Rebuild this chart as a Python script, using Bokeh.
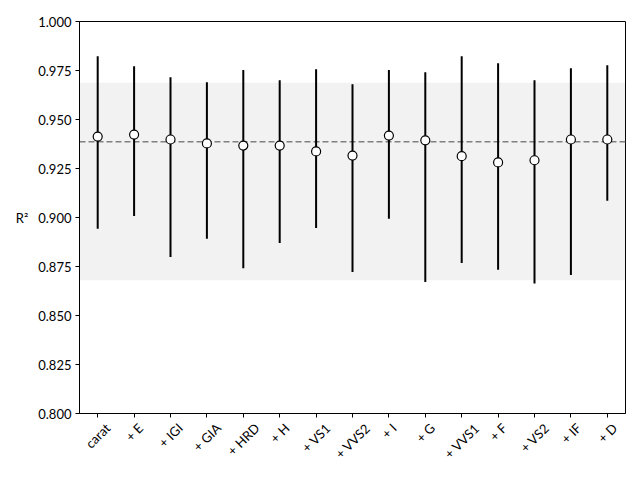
import math
from bokeh.plotting import figure
from bokeh.layouts import column
from bokeh.core.properties import value
from bokeh.models import (FactorRange, Range1d, BoxAnnotation, Span, ColumnDataSource,
                          FixedTicker, CustomJSTickFormatter, LabelSet)
from bokeh.embed import file_html
from bokeh.resources import INLINE

categories = ["carat", "+ E", "+ IGI", "+ GIA", "+ HRD", "+ H", "+ VS1", "+ VVS2",
              "+ I", "+ G", "+ VVS1", "+ F", "+ VS2", "+ IF", "+ D"]
r2_mean = [0.9413, 0.9423, 0.9398, 0.9378, 0.9367, 0.9367, 0.9337, 0.9316,
           0.9418, 0.9394, 0.9313, 0.9281, 0.9292, 0.9398, 0.9398]
r2_high = [0.9823, 0.9772, 0.9716, 0.9690, 0.9752, 0.9700, 0.9757, 0.9680,
           0.9752, 0.9741, 0.9823, 0.9787, 0.9700, 0.9762, 0.9777]
r2_low = [0.8942, 0.9008, 0.8799, 0.8891, 0.8741, 0.8870, 0.8947, 0.8722,
          0.8993, 0.8671, 0.8768, 0.8733, 0.8663, 0.8707, 0.9085]
baseline_mean = 0.9386
baseline_band = (0.8680, 0.9687)
y_ticks = [0.800, 0.825, 0.850, 0.875, 0.900, 0.925, 0.950, 0.975, 1.000]

FONT = "Lato"
FS = 13

W, H = 639, 472
FRAME_W, FRAME_H = 546, 392
B_LEFT, B_TOP, B_BOTTOM = 79, 21, 8
B_RIGHT = W - B_LEFT - FRAME_W
STRIP_H = H - (B_TOP + FRAME_H + B_BOTTOM)

xr = FactorRange(factors=categories, range_padding=0)
p = figure(x_range=xr, y_range=Range1d(0.8, 1.0),
           width=W, height=B_TOP + FRAME_H + B_BOTTOM,
           frame_width=FRAME_W, frame_height=FRAME_H,
           min_border_left=B_LEFT, min_border_right=B_RIGHT,
           min_border_top=B_TOP, min_border_bottom=B_BOTTOM,
           output_backend="svg", toolbar_location=None)

p.background_fill_color = "white"
p.border_fill_color = "white"
p.outline_line_color = "black"
p.outline_line_width = 1
p.xgrid.visible = False
p.ygrid.visible = False

src = ColumnDataSource(dict(cat=categories, mean=r2_mean, lo=r2_low, hi=r2_high))

band = BoxAnnotation(bottom=baseline_band[0], top=baseline_band[1],
                     fill_color="gray", fill_alpha=0.1, line_color=None, level="underlay")
p.add_layout(band)

span = Span(location=baseline_mean, dimension="width", line_color="gray",
            line_dash="6 3", line_width=1.5, level="underlay")
p.add_layout(span)

p.segment(x0="cat", y0="lo", x1="cat", y1="hi", source=src, line_color="black", line_width=2)
p.scatter(x="cat", y="mean", source=src, marker="circle", size=9,
          fill_color="white", line_color="black", line_width=1.2)

for ax in (p.xaxis, p.yaxis):
    ax.axis_line_color = "black"
    ax.major_tick_line_color = "black"
    ax.major_tick_out = 4
    ax.major_tick_in = 0
    ax.minor_tick_line_color = None
    ax.major_label_text_font = FONT
    ax.major_label_text_font_size = f"{FS}px"
    ax.major_label_text_color = "black"

p.yaxis.ticker = FixedTicker(ticks=y_ticks)
p.yaxis.formatter = CustomJSTickFormatter(code="return tick.toFixed(3);")
p.yaxis.major_label_standoff = 4
p.yaxis.axis_label = "R²"
p.yaxis.axis_label_text_font = FONT
p.yaxis.axis_label_text_font_size = f"{FS}px"
p.yaxis.axis_label_text_font_style = "normal"
p.yaxis.axis_label_text_color = "black"
p.yaxis.axis_label_orientation = "horizontal"
p.yaxis.axis_label_standoff = 7

# x tick labels are drawn in a strip below the axis: rotated 45 deg, centred on their tick
p.xaxis.major_label_text_color = None
p.xaxis.major_label_text_font_size = "0px"
p.xaxis.major_label_standoff = 0

strip = figure(x_range=xr, y_range=Range1d(0, STRIP_H),
               width=W, height=STRIP_H, frame_width=FRAME_W, frame_height=STRIP_H,
               min_border_left=B_LEFT, min_border_right=B_RIGHT,
               min_border_top=0, min_border_bottom=0,
               x_axis_location=None, y_axis_location=None,
               output_backend="svg", toolbar_location=None)
strip.outline_line_color = None
strip.xgrid.visible = False
strip.ygrid.visible = False
strip.background_fill_color = "white"
strip.border_fill_color = "white"

CW = {" ": 0.193, "+": 0.58, "c": 0.45, "a": 0.49, "r": 0.35, "t": 0.33,
      "E": 0.55, "I": 0.27, "G": 0.70, "A": 0.68, "H": 0.76, "R": 0.60,
      "D": 0.74, "V": 0.68, "S": 0.51, "1": 0.58, "2": 0.58, "F": 0.53}
s2 = math.sqrt(2)
label_y = []
for c in categories:
    w = sum(CW.get(ch, 0.55) for ch in c) * FS
    half = (w + FS * 1.2) / (2 * s2)
    below_axis = 7 + half
    label_y.append(STRIP_H - (below_axis - B_BOTTOM))
lab_src = ColumnDataSource(dict(cat=categories, y=label_y))
labels = LabelSet(x="cat", y="y", y_units="screen", text="cat", source=lab_src,
                  angle=math.pi / 4, text_align="center", text_baseline="middle",
                  text_font=value(FONT), text_font_size=value(f"{FS}px"),
                  text_color="black")
strip.add_layout(labels)

layout = column(p, strip, spacing=0)
open("out.html", "w").write(file_html(layout, INLINE))
